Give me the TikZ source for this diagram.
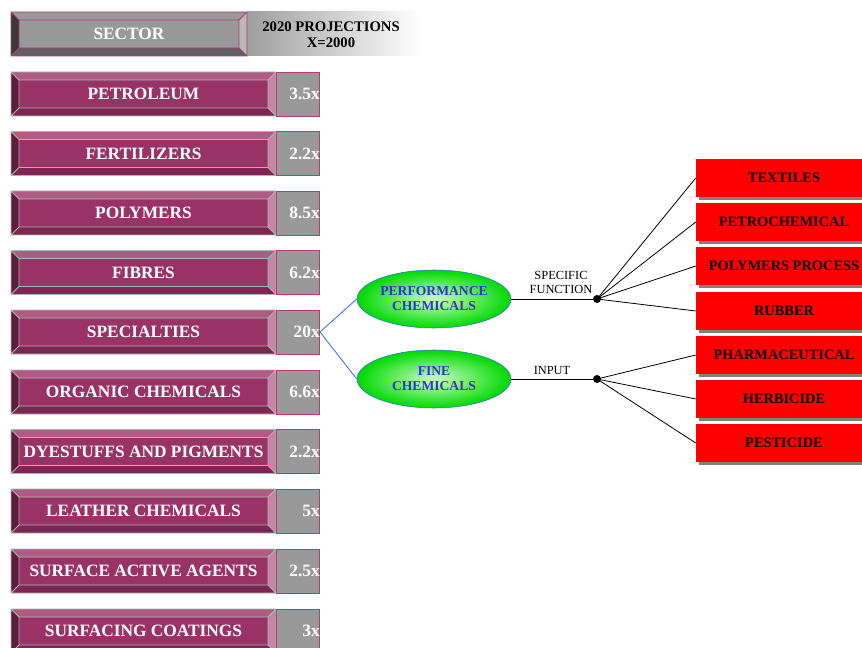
\documentclass[tikz,border=0pt]{standalone}
\usepackage{fontspec}
\setmainfont{Liberation Serif}
\usetikzlibrary{shapes.geometric,shadows}

\definecolor{maroon}{HTML}{993366}
\definecolor{maroontop}{HTML}{AE5C84}
\definecolor{maroonleft}{HTML}{5C1C3C}
\definecolor{maroonbottom}{HTML}{7A2852}
\definecolor{maroonright}{HTML}{C386A6}
\definecolor{pinkedge}{HTML}{B0406F}
\definecolor{valuegray}{HTML}{999999}
\definecolor{chemblue}{HTML}{3366FF}
\definecolor{chemtext}{HTML}{3333CC}

% bevelled box: x2, y centre, main, top, left, bottom, right, edge
\newcommand{\bevel}[8]{%
  \fill[#3] (11,{#2-22}) rectangle (#1,{#2+22});
  \fill[#4] (11,{#2-22}) -- (#1,{#2-22}) -- ({#1-8},{#2-14}) -- (19,{#2-14}) -- cycle;
  \fill[#5] (11,{#2-22}) -- (19,{#2-14}) -- (19,{#2+14}) -- (11,{#2+22}) -- cycle;
  \fill[#6] (11,{#2+22}) -- (19,{#2+14}) -- ({#1-8},{#2+14}) -- (#1,{#2+22}) -- cycle;
  \fill[#7] (#1,{#2-22}) -- (#1,{#2+22}) -- ({#1-8},{#2+14}) -- ({#1-8},{#2-14}) -- cycle;
  \draw[#8, line width=0.6pt] (11,{#2-22}) rectangle (#1,{#2+22})
    (19,{#2-14}) rectangle ({#1-8},{#2+14})
    (11,{#2-22}) -- (19,{#2-14}) (11,{#2+22}) -- (19,{#2+14})
    (#1,{#2-22}) -- ({#1-8},{#2-14}) (#1,{#2+22}) -- ({#1-8},{#2+14});
}
% one sector row: name, y centre, label, value
\newcommand{\sectorrow}[4]{%
  \bevel{276}{#2}{maroon}{maroontop}{maroonleft}{maroonbottom}{maroonright}{gray!60}
  \draw[pinkedge, fill=valuegray, line width=0.6pt] (276,{#2-22}) rectangle (319,{#2+22});
  \node[sectorlabel] (#1) at (143.5,#2) {#3};
  \node[valuelabel] (#1x) at (320,#2) {#4};
}

\tikzset{
  sectorlabel/.style={text=white, inner sep=0pt, font=\fontsize{13}{15}\selectfont\bfseries},
  valuelabel/.style={text=white, inner sep=0pt, anchor=east, font=\fontsize{13}{15}\selectfont\bfseries},
  chemical/.style={ellipse, draw=chemblue, inner color=green!20!white, outer color=green!85!black,
    minimum width=115.5pt, minimum height=43.5pt, inner sep=0pt, align=center,
    text=chemtext, font=\fontsize{10.2}{11.3}\selectfont\bfseries},
  usebox/.style={fill=red, minimum width=132pt, minimum height=28.5pt, inner sep=0pt,
    font=\fontsize{10.8}{12}\selectfont\bfseries,
    drop shadow={shadow xshift=2pt, shadow yshift=-2pt, fill=gray, opacity=1}},
  junction/.style={circle, fill=black, inner sep=0pt, minimum size=6pt},
  smalllabel/.style={inner sep=0pt, align=center, font=\fontsize{9.3}{10.5}\selectfont}
}

\begin{document}
\begin{tikzpicture}[x=0.75pt, y=-0.75pt]
  \useasboundingbox (0,0) rectangle (862,648);

  % header
  \shade[left color={rgb,255:red,158;green,158;blue,158}, right color=white] (247,12) rectangle (420,56);
  \bevel{247}{34}{valuegray}{gray!80}{gray!45!black}{gray!75!black}{gray!55}{pinkedge}
  \node[sectorlabel] (sector) at (129,34) {SECTOR};
  \node[align=center, inner sep=0pt, font=\fontsize{11}{12}\selectfont\bfseries] (proj) at (331,35) {2020 PROJECTIONS\\X=2000};

  % sectors
  \sectorrow{petroleum}{94}{PETROLEUM}{3.5x}
  \sectorrow{fertilizers}{153.5}{FERTILIZERS}{2.2x}
  \sectorrow{polymers}{213}{POLYMERS}{8.5x}
  \sectorrow{fibres}{272.5}{FIBRES}{6.2x}
  \sectorrow{specialties}{332}{SPECIALTIES}{20x}
  \sectorrow{organic}{392}{ORGANIC CHEMICALS}{6.6x}
  \sectorrow{dyestuffs}{451.5}{DYESTUFFS AND PIGMENTS}{2.2x}
  \sectorrow{leather}{511}{LEATHER CHEMICALS}{5x}
  \sectorrow{surface}{571}{SURFACE ACTIVE AGENTS}{2.5x}
  \sectorrow{coatings}{631}{SURFACING COATINGS}{3x}

  % specialties
  \node[chemical] (perf) at (434,299) {PERFORMANCE\\CHEMICALS};
  \node[chemical] (fine) at (434,379) {FINE\\CHEMICALS};
  \node[junction] (function) at (597,299) {};
  \node[junction] (input) at (597,379) {};
  \node[smalllabel] (functionlabel) at (561,282) {SPECIFIC\\FUNCTION};
  \node[smalllabel] (inputlabel) at (552,370) {INPUT};

  % uses
  \node[usebox] (textiles) at (784,178) {TEXTILES};
  \node[usebox] (petrochem) at (784,222) {PETROCHEMICAL};
  \node[usebox] (polyprocess) at (784,266) {POLYMERS PROCESS};
  \node[usebox] (rubber) at (784,311) {RUBBER};
  \node[usebox] (pharma) at (784,355) {PHARMACEUTICAL};
  \node[usebox] (herbicide) at (784,399) {HERBICIDE};
  \node[usebox] (pesticide) at (784,443) {PESTICIDE};

  \begin{scope}[chemblue, line width=0.6pt]
    \draw (specialtiesx.east) to (perf.west);
    \draw (specialtiesx.east) to (fine.west);
  \end{scope}
  \begin{scope}[line width=0.6pt]
    \draw (perf) to (function);
    \draw (fine) to (input);
    \draw (function.center) to (textiles.west);
    \draw (function.center) to (petrochem.west);
    \draw (function.center) to (polyprocess.west);
    \draw (function.center) to (rubber.west);
    \draw (input.center) to (pharma.west);
    \draw (input.center) to (herbicide.west);
    \draw (input.center) to (pesticide.west);
  \end{scope}
\end{tikzpicture}
\end{document}
